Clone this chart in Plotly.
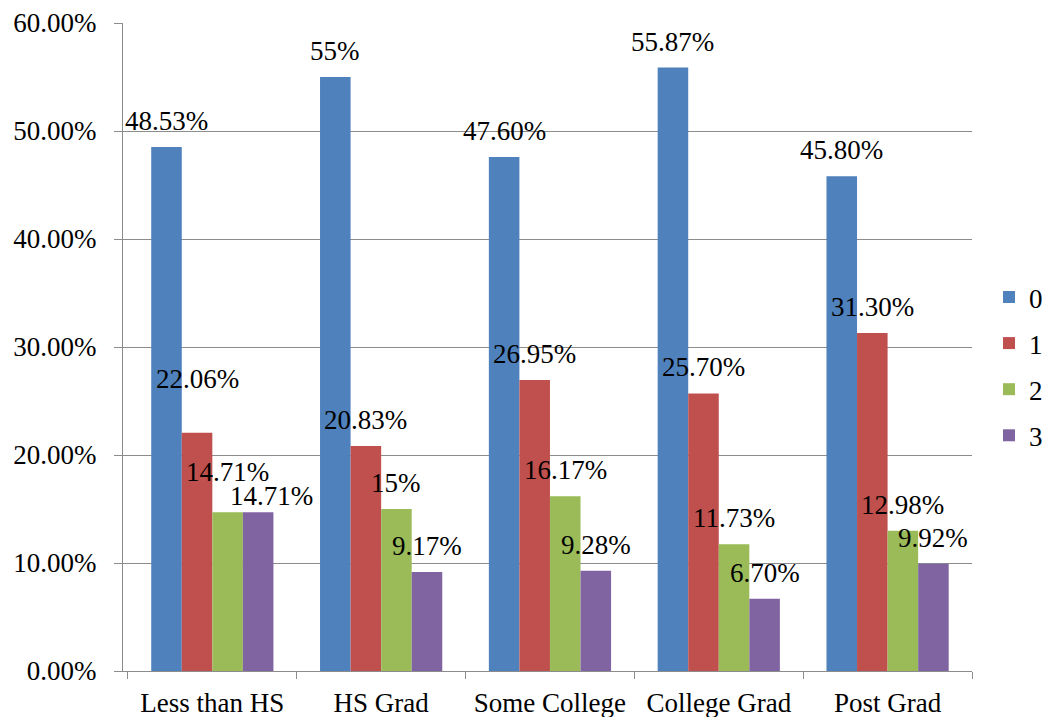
import plotly.graph_objects as go

categories = ["Less than HS", "HS Grad", "Some College", "College Grad", "Post Grad"]
series_names = ["0", "1", "2", "3"]
values_0 = [48.53, 55.0, 47.60, 55.87, 45.80]
values_1 = [22.06, 20.83, 26.95, 25.70, 31.30]
values_2 = [14.71, 15.0, 16.17, 11.73, 12.98]
values_3 = [14.71, 9.17, 9.28, 6.70, 9.92]
colors = ["#4F81BD", "#C0504D", "#9BBB59", "#8064A2"]
y_ticks = [0, 10, 20, 30, 40, 50, 60]

# manual label nudges (series index, category index) -> (dx px, dy px), as in the original
label_nudges = {(1, 0): (0, 28), (2, 0): (0, 14), (3, 0): (13, -10)}


def fmt(v):
    return f"{int(v)}%" if float(v).is_integer() else f"{v:.2f}%"


FONT = "Liberation Serif"
FS = 27
BARGAP = 0.276
all_vals = [values_0, values_1, values_2, values_3]
n = len(all_vals)
bw = (1 - BARGAP) / n

fig = go.Figure()
for si, (name, vals, col) in enumerate(zip(series_names, all_vals, colors)):
    fig.add_trace(go.Bar(
        name=name, x=categories, y=[v / 100 for v in vals],
        marker=dict(color=col, line=dict(width=0)),
        legendgroup=name,
    ))
    for ci, v in enumerate(vals):
        dx, dy = label_nudges.get((si, ci), (0, 0))
        fig.add_annotation(
            x=ci + (si - (n - 1) / 2) * bw, y=v / 100, xref="x", yref="y",
            text=fmt(v), showarrow=False, xanchor="center", yanchor="middle",
            yshift=26 + dy, xshift=dx,
            font=dict(family=FONT, size=FS, color="black"),
        )

fig.update_layout(
    width=1053, height=717,
    margin=dict(l=123, r=81, t=23, b=46, autoexpand=False),
    paper_bgcolor="white", plot_bgcolor="white",
    barmode="group", bargap=BARGAP, bargroupgap=0,
    font=dict(family=FONT, size=FS, color="black"),
    showlegend=True,
    legend=dict(x=1.02, xanchor="left", y=0.47, yanchor="middle",
                font=dict(family=FONT, size=FS, color="black"),
                tracegroupgap=8, bgcolor="rgba(0,0,0,0)"),
)
fig.update_yaxes(
    range=[0, 0.6], tickvals=[t / 100 for t in y_ticks], tickformat=".2%",
    showgrid=True, gridcolor="#8C8C8C", gridwidth=1,
    showline=True, linecolor="#8C8C8C", linewidth=1,
    ticks="outside", ticklen=8, tickcolor="#8C8C8C", ticklabelstandoff=12,
    zeroline=False, fixedrange=True,
)
fig.update_xaxes(
    showline=True, linecolor="#8C8C8C", linewidth=1,
    ticks="outside", ticklen=7, tickcolor="#8C8C8C", tickson="boundaries",
    ticklabelstandoff=8,
    showgrid=False, fixedrange=True,
)
fig.write_html("out.html")
